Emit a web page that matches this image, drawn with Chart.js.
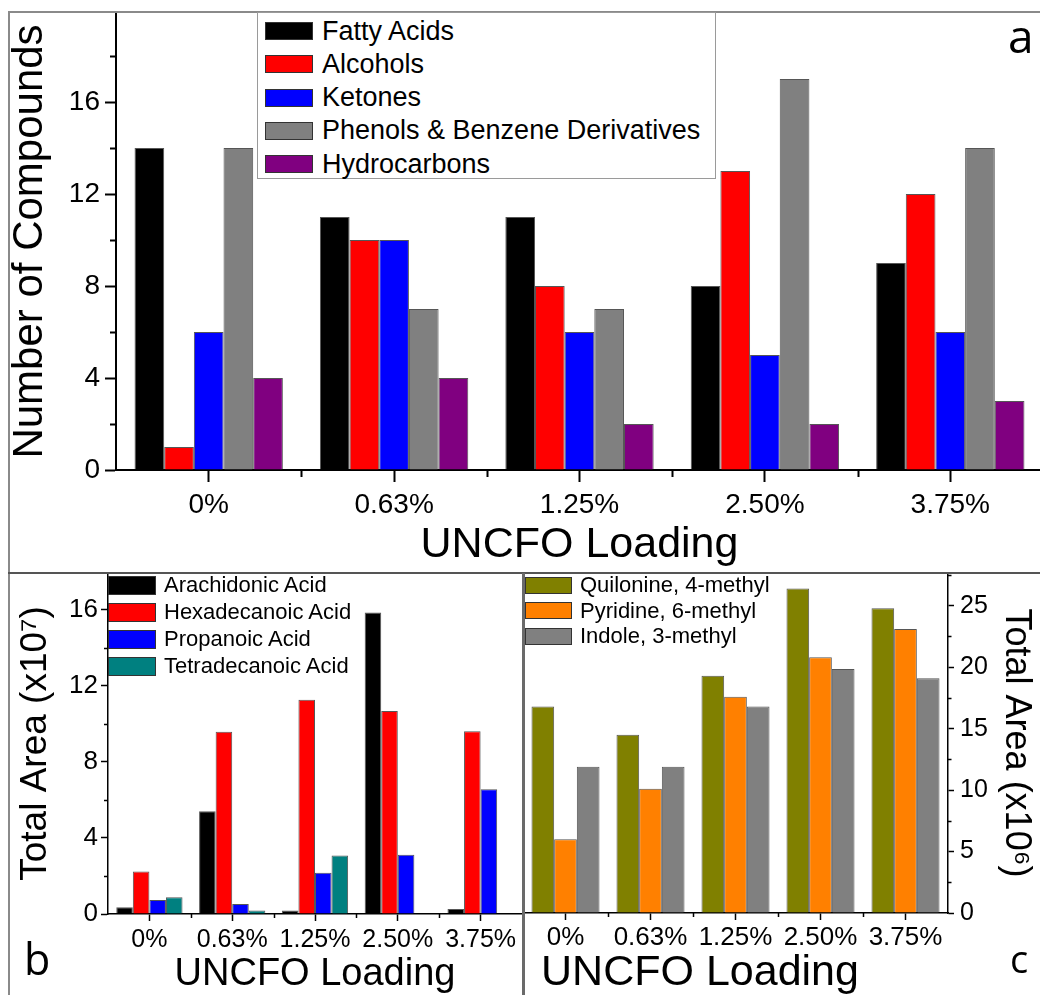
<!DOCTYPE html>
<html>
<head>
<meta charset="utf-8">
<title>UNCFO Loading - compound groups</title>
<script src="https://cdn.jsdelivr.net/npm/chart.js@4.4.0/dist/chart.umd.min.js"></script>
<style>
    html, body { margin: 0; padding: 0; background: #fff; overflow: hidden; }
    #fig { position: relative; width: 1040px; height: 995px; overflow: hidden; background: #fff; }
    #fig canvas { position: absolute; }
    .line { position: absolute; }
    .legend { position: absolute; font-family: "Liberation Sans", Arial, sans-serif; color: #000; }
    .legend .row { position: absolute; display: flex; align-items: center; white-space: nowrap; line-height: 1; }
    .legend .swatch { box-sizing: border-box; border: 1px solid #333; }
    .tag { position: absolute; font-family: "Open Sans", sans-serif; line-height: 1; color: #000; }
    .xlabel { position: absolute; font-family: "Liberation Sans", Arial, sans-serif; line-height: 1; color: #000; white-space: nowrap; transform: translateX(-50%); }
</style>
</head>
<body>
<div id="fig">
    <canvas id="chartA" width="1044" height="572" style="left:0;top:0"></canvas>
    <canvas id="chartB" width="523" height="422" style="left:0;top:573px"></canvas>
    <canvas id="chartC" width="517" height="422" style="left:523px;top:573px"></canvas>

    <!-- panel frame -->
    <div class="line" style="left:8px;top:11px;width:1032px;height:2px;background:#8a8a8a"></div>
    <div class="line" style="left:8px;top:11px;width:2px;height:984px;background:#8a8a8a"></div>
    <div class="line" style="left:8px;top:572px;width:1032px;height:2px;background:#555"></div>
    <div class="line" style="left:522px;top:573px;width:3px;height:422px;background:#6a6a6a"></div>

    <div id="legendA" class="legend"></div>
    <div id="legendB" class="legend"></div>
    <div id="legendC" class="legend"></div>

    <div class="xlabel" style="left:700px;top:949px;font-size:43px">UNCFO Loading</div>

    <div class="tag" style="left:1008px;top:12px;font-size:46px">a</div>
    <div class="tag" style="left:24px;top:937px;font-size:43px">b</div>
    <div class="tag" style="left:1010px;top:939px;font-size:38px">c</div>
</div>

<script>
// Categories shared by all three panels
const loadings = ['0%', '0.63%', '1.25%', '2.50%', '3.75%'];

// Panel a: number of compounds per class
const fattyAcids = [14, 11, 11, 8, 9];
const alcohols = [1, 10, 8, 13, 12];
const ketones = [6, 10, 6, 5, 6];
const phenols = [14, 7, 7, 17, 14];
const hydrocarbons = [4, 4, 2, 2, 3];
const ticksA = [0, 4, 8, 12, 16];

// Panel b: total area of fatty acids (x10^7)
const arachidonic = [0.35, 5.4, 0.18, 15.85, 0.26];
const hexadecanoic = [2.24, 9.58, 11.27, 10.67, 9.61];
const propanoic = [0.74, 0.53, 2.17, 3.12, 6.56];
const tetradecanoic = [0.88, 0.18, 3.07, null, null];
const ticksB = [0, 4, 8, 12, 16];

// Panel c: total area of N-compounds (x10^6)
const quilonine = [16.8, 14.5, 19.3, 26.4, 24.8];
const pyridine = [6.0, 10.1, 17.6, 20.8, 23.1];
const indole = [11.9, 11.9, 16.8, 19.85, 19.1];
const ticksC = [0, 5, 10, 15, 20, 25];

const FONT = '"Liberation Sans", Arial, sans-serif';

// Origin-style minor ticks (between majors, and between categories)
const minorTicks = {
    id: 'minorTicks',
    afterDraw(chart, args, opts) {
        const ctx = chart.ctx;
        const x = chart.scales.x;
        const y = chart.scales.y;
        ctx.save();
        ctx.strokeStyle = '#000';
        ctx.lineWidth = opts.width;
        ctx.beginPath();
        for (let i = 0; i < x.ticks.length - 1; i++) {
            const px = Math.round((x.getPixelForTick(i) + x.getPixelForTick(i + 1)) / 2) + 0.5;
            ctx.moveTo(px, x.top);
            ctx.lineTo(px, x.top + opts.xLen);
        }
        const step = y.ticks[1].value - y.ticks[0].value;
        y.ticks.forEach(t => {
            const v = t.value + step / 2;
            if (v > y.max) return;
            const py = Math.round(y.getPixelForValue(v)) + 0.5;
            if (y.position === 'right') {
                ctx.moveTo(y.left, py);
                ctx.lineTo(y.left + opts.yLen, py);
            } else {
                ctx.moveTo(y.right, py);
                ctx.lineTo(y.right - opts.yLen, py);
            }
        });
        ctx.stroke();
        ctx.restore();
    }
};

function bars(label, data, color) {
    return {
        label: label,
        data: data,
        backgroundColor: color,
        borderColor: 'rgba(30,30,30,0.75)',
        borderWidth: 1,
        categoryPercentage: 0.8,
        barPercentage: 1.0
    };
}

function buildOptions(p) {
    const axisGrid = len => ({
        display: true,
        drawOnChartArea: false,
        drawTicks: true,
        offset: false,
        tickLength: len,
        tickColor: '#000',
        tickWidth: p.lineW
    });
    return {
        responsive: false,
        animation: false,
        events: [],
        layout: { padding: p.padding },
        plugins: {
            legend: { display: false },
            tooltip: { enabled: false },
            minorTicks: p.minor
        },
        scales: {
            x: {
                offset: true,
                grid: axisGrid(p.xTick),
                border: { display: true, color: '#000', width: p.lineW },
                ticks: { color: '#000', font: { family: FONT, size: p.xFont }, padding: p.xPad, maxRotation: 0, autoSkip: false },
                title: p.xTitle
                    ? { display: true, text: p.xTitle, color: '#000', font: { family: FONT, size: p.xTitleSize, lineHeight: 1 }, padding: { top: 0, bottom: p.xTitlePad } }
                    : { display: false },
                afterFit: s => {
                    s.height = p.xHeight;
                    s.paddingLeft = 0;
                    s.paddingRight = 0;
                }
            },
            y: {
                position: p.yPos,
                min: 0,
                max: p.yMax,
                afterBuildTicks: s => { s.ticks = p.yTicks.map(v => ({ value: v })); },
                grid: axisGrid(p.yTick),
                border: { display: true, color: '#000', width: p.lineW },
                ticks: { color: '#000', font: { family: FONT, size: p.yFont }, padding: p.yPad },
                title: { display: true, text: p.yTitle, color: '#000', font: { family: FONT, size: p.yTitleSize, lineHeight: 1 }, padding: { top: p.yTitlePad, bottom: 0 } },
                afterFit: s => {
                    s.width = p.yWidth;
                    s.paddingTop = 0;
                    s.paddingBottom = 0;
                }
            }
        }
    };
}

// HTML legends built from the dataset labels and colours
function makeLegend(id, datasets, c) {
    const box = document.getElementById(id);
    if (c.box) {
        Object.assign(box.style, {
            left: c.box[0] + 'px', top: c.box[1] + 'px',
            width: c.box[2] + 'px', height: c.box[3] + 'px',
            border: '1px solid #9a9a9a', background: '#fff', boxSizing: 'border-box'
        });
    } else {
        Object.assign(box.style, { left: '0px', top: '0px' });
    }
    const ox = c.box ? c.box[0] + 1 : 0;
    const oy = c.box ? c.box[1] + 1 : 0;
    datasets.forEach((ds, i) => {
        const row = document.createElement('div');
        row.className = 'row';
        const h = Math.max(c.sh, c.font);
        row.style.left = (c.left - ox) + 'px';
        row.style.top = (c.first + i * c.step - h / 2 - oy) + 'px';
        row.style.height = h + 'px';
        row.style.fontSize = c.font + 'px';
        const sw = document.createElement('span');
        sw.className = 'swatch';
        sw.style.width = c.sw + 'px';
        sw.style.height = c.sh + 'px';
        sw.style.background = ds.backgroundColor;
        sw.style.marginRight = c.gap + 'px';
        const tx = document.createElement('span');
        tx.textContent = ds.label;
        row.appendChild(sw);
        row.appendChild(tx);
        box.appendChild(row);
    });
}

// Panel a
const setsA = [
    bars('Fatty Acids', fattyAcids, '#000000'),
    bars('Alcohols', alcohols, '#ff0000'),
    bars('Ketones', ketones, '#0000ff'),
    bars('Phenols & Benzene Derivatives', phenols, '#808080'),
    bars('Hydrocarbons', hydrocarbons, '#800080')
];
new Chart(document.getElementById('chartA'), {
    type: 'bar',
    data: { labels: loadings, datasets: setsA },
    options: buildOptions({
        padding: { left: 0, top: 13, right: 1, bottom: 0 },
        lineW: 2,
        yPos: 'left', yMax: 19.87, yTicks: ticksA, yWidth: 116, yTick: 11, yFont: 28, yPad: 5,
        yTitle: 'Number of Compounds', yTitleSize: 42, yTitlePad: 9,
        xHeight: 102, xTick: 12, xFont: 28, xPad: 6,
        xTitle: 'UNCFO Loading', xTitleSize: 43, xTitlePad: 5,
        minor: { xLen: 7, yLen: 6, width: 2 }
    }),
    plugins: [minorTicks]
});

// Panel b
const setsB = [
    bars('Arachidonic Acid', arachidonic, '#000000'),
    bars('Hexadecanoic Acid', hexadecanoic, '#ff0000'),
    bars('Propanoic Acid', propanoic, '#0000ff'),
    bars('Tetradecanoic Acid', tetradecanoic, '#008080')
];
new Chart(document.getElementById('chartB'), {
    type: 'bar',
    data: { labels: loadings, datasets: setsB },
    options: buildOptions({
        padding: { left: 0, top: 0, right: 1, bottom: 0 },
        lineW: 1.5,
        yPos: 'left', yMax: 17.93, yTicks: ticksB, yWidth: 108, yTick: 7, yFont: 26, yPad: 3,
        yTitle: 'Total Area (x10\u2077)', yTitleSize: 37, yTitlePad: 17,
        xHeight: 81, xTick: 7, xFont: 25, xPad: 4,
        xTitle: 'UNCFO Loading', xTitleSize: 38, xTitlePad: 1,
        minor: { xLen: 4, yLen: 4, width: 1.5 }
    }),
    plugins: [minorTicks]
});

// Panel c
const setsC = [
    bars('Quilonine, 4-methyl', quilonine, '#808000'),
    bars('Pyridine, 6-methyl', pyridine, '#ff8000'),
    bars('Indole, 3-methyl', indole, '#808080')
];
new Chart(document.getElementById('chartC'), {
    type: 'bar',
    data: { labels: loadings, datasets: setsC },
    options: buildOptions({
        padding: { left: 0, top: 0, right: 0, bottom: 0 },
        lineW: 1.5,
        yPos: 'right', yMax: 27.66, yTicks: ticksC, yWidth: 92, yTick: 6, yFont: 25, yPad: 6,
        yTitle: 'Total Area (x10\u2076)', yTitleSize: 36, yTitlePad: 6,
        xHeight: 82, xTick: 7, xFont: 26, xPad: 2,
        xTitle: null,
        minor: { xLen: 4, yLen: 3.5, width: 1.5 }
    }),
    plugins: [minorTicks]
});

makeLegend('legendA', setsA, { box: [257, 12, 459, 167], left: 265, first: 31, step: 33.25, sw: 48, sh: 18, gap: 9, font: 27 });
makeLegend('legendB', setsB, { left: 108, first: 585, step: 27, sw: 48, sh: 19, gap: 8, font: 22 });
makeLegend('legendC', setsC, { left: 525, first: 585, step: 25.5, sw: 47, sh: 17, gap: 8, font: 22 });
</script>
</body>
</html>
